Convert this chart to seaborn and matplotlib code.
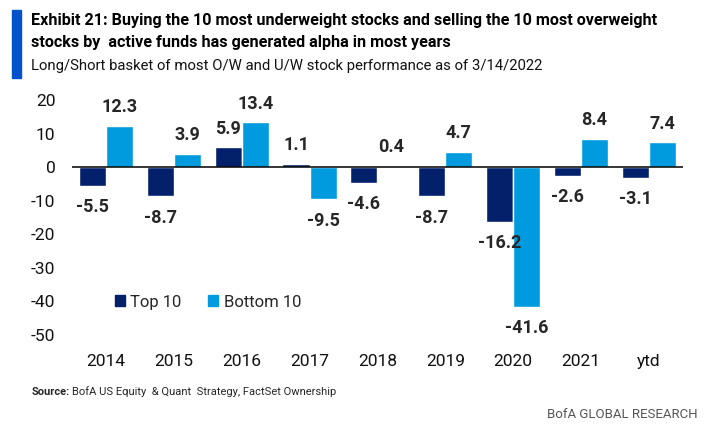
import matplotlib
matplotlib.use("Agg")
import matplotlib.pyplot as plt
import matplotlib.patches as mpatches
import seaborn as sns
import pandas as pd

# data read from the exhibit
years = ["2014", "2015", "2016", "2017", "2018", "2019", "2020", "2021", "ytd"]
top10 = [-5.5, -8.7, 5.9, 1.1, -4.6, -8.7, -16.2, -2.6, -3.1]
bottom10 = [12.3, 3.9, 13.4, -9.5, 0.4, 4.7, -41.6, 8.4, 7.4]
series = ["Top 10", "Bottom 10"]
yticks = [20, 10, 0, -10, -20, -30, -40, -50]

NAVY = "#03216B"
LIGHT = "#009BDE"

df = pd.DataFrame({
    "year": years * 2,
    "value": top10 + bottom10,
    "series": [series[0]] * len(years) + [series[1]] * len(years),
})

sns.set_theme(style="white")
plt.rcParams["font.family"] = ["Roboto", "DejaVu Sans"]

fig = plt.figure(figsize=(7.21, 4.30), dpi=100)
ax = fig.add_axes([0.1, 0.221, 0.847, 0.546])

sns.barplot(data=df, x="year", y="value", hue="series", order=years,
            hue_order=series, palette=[NAVY, LIGHT], width=0.8,
            saturation=1, ax=ax, legend=False)

ax.set_ylim(-50, 20)
ax.set_yticks(yticks)
ax.set_yticklabels([str(t) for t in yticks], fontsize=12.5, color="#111111")
ax.tick_params(axis="x", labelsize=12.5, colors="#111111", pad=14, length=0)
ax.tick_params(axis="y", length=0, pad=12)
ax.set_xlabel("")
ax.set_ylabel("")
for s in ax.spines.values():
    s.set_visible(False)
ax.axhline(0, color="black", lw=1.1, zorder=3)

# value labels
for cont in ax.containers:
    for bar in cont:
        h = bar.get_height()
        xc = bar.get_x() + bar.get_width() / 2
        if h >= 0:
            ax.annotate(f"{h:.1f}", (xc, h), xytext=(0, 7), textcoords="offset points",
                        ha="center", va="bottom", fontsize=13, fontweight="bold")
        else:
            ax.annotate(f"{h:.1f}", (xc, h), xytext=(0, -9), textcoords="offset points",
                        ha="center", va="top", fontsize=13, fontweight="bold")

handles = [mpatches.Patch(color=NAVY, label=series[0]),
           mpatches.Patch(color=LIGHT, label=series[1])]
ax.legend(handles=handles, loc="center left", bbox_to_anchor=(0.045, 0.14),
          ncol=2, frameon=False, fontsize=12, handlelength=0.6, handleheight=0.6,
          handletextpad=0.35, columnspacing=1.6)

# header
fig.add_artist(mpatches.Rectangle((12 / 721, 1 - 78 / 430), 9 / 721, 68 / 430,
                                  transform=fig.transFigure, color="#0052CC"))
fig.text(31 / 721, 1 - 20 / 430,
         "Exhibit 21: Buying the 10 most underweight stocks and selling the 10 most overweight",
         fontsize=11.6, fontweight="bold", va="center", ha="left", color="black")
fig.text(31 / 721, 1 - 43 / 430,
         "stocks by  active funds has generated alpha in most years",
         fontsize=11.6, fontweight="bold", va="center", ha="left", color="black")
fig.text(31 / 721, 1 - 66 / 430,
         "Long/Short basket of most O/W and U/W stock performance as of 3/14/2022",
         fontsize=10.7, va="center", ha="left", color="#111111")

# footer
fig.text(32 / 721, 1 - 392 / 430, "Source:", fontsize=8, fontweight="bold",
         va="center", ha="left")
fig.text(72 / 721, 1 - 392 / 430, "BofA US Equity  & Quant  Strategy, FactSet Ownership",
         fontsize=8, va="center", ha="left")
fig.text(698 / 721, 1 - 414 / 430, "BofA GLOBAL RESEARCH", fontsize=9.5,
         color="#555555", va="center", ha="right")

fig.savefig("out.png", dpi=100)
